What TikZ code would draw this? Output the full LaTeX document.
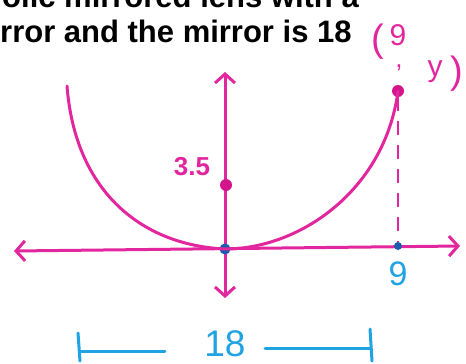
\documentclass[tikz,border=0pt]{standalone}
\usepackage{fontspec}
\setmainfont{Liberation Sans}
\usetikzlibrary{arrows.meta}
\definecolor{pen}{HTML}{E2279E}
\definecolor{dotpink}{HTML}{D3148A}
\definecolor{inkblue}{HTML}{1FA3E2}
\definecolor{dotblue}{HTML}{1E5AAE}
\tikzset{
  axisline/.style={pen, line width=3pt, line cap=round, <->},
  curveline/.style={pen, line width=3pt, line cap=round},
  pdot/.style={circle, fill=dotpink, inner sep=0pt, minimum size=12pt},
  bdot/.style={circle, fill=dotblue, inner sep=0pt, minimum size=11pt},
  dimline/.style={inkblue, line width=3pt, line cap=round},
  question/.style={anchor=base west, inner sep=0pt, font=\bfseries\fontsize{31}{34}\selectfont},
  pinktext/.style={pen, inner sep=0pt, font=\fontsize{30}{32}\selectfont},
}
\begin{document}
\begin{tikzpicture}[x=1pt,y=-1pt,>={Straight Barb[length=9pt,width=20pt]}]
	  \useasboundingbox (0,0) rectangle (466,364);
	  % question text, cut off
	  \node[question] (q1) at (2,7) {olic mirrored lens with a};
	  \node[question] (q2) at (0,42) {rror and the mirror is 18};
	  % axes
	  \coordinate (xl) at (14,251);
	  \coordinate (xr) at (460,246);
	  \coordinate (yt) at (225,72);
	  \coordinate (yb) at (225,298);
	  \draw[axisline] (xl) -- (xr);
	  \draw[axisline] (yt) -- (yb);
	  % points
	  \node[bdot] (O) at (225,249) {};
	  \node[pdot] (A) at (226,185) {};
	  \node[pdot] (P) at (398,91) {};
	  \node[bdot, minimum size=8pt] (Q) at (398,246) {};
	  \coordinate (L) at (67,86);
	  % parabola
	  \draw[curveline] (L) .. controls (75,190) and (140,245) .. (O.center);
	  \draw[curveline] (O.center) .. controls (300,249) and (385,190) .. (P.center);
	  \draw[pen, line width=2.4pt, dash pattern=on 14pt off 10pt] (P) -- (Q);
	  % labels
	  \node[pen, inner sep=0pt, font=\bfseries\fontsize{26}{28}\selectfont] (la) at (192,167) {3.5};
	  \node[inkblue, inner sep=0pt, font=\fontsize{34}{36}\selectfont] (l9) at (398,274) {9};
	  \node[pinktext, font=\fontsize{38}{40}\selectfont] (lpar) at (378,42) {(};
	  \node[pinktext] (nine) at (398,35) {9};
	  \node[pinktext, font=\fontsize{26}{28}\selectfont, text height=4pt, text depth=6pt] (comma) at (399,68) {,};
	  \node[pinktext] (yy) at (435,72) {y};
	  \node[pinktext, font=\fontsize{38}{40}\selectfont] (rpar) at (457,74) {)};
	  % width 18
	  \node[inkblue, inner sep=0pt, font=\fontsize{37}{39}\selectfont] (len) at (225,344) {18};
	  \coordinate (d1) at (78,333);
	  \coordinate (d2) at (80,361);
	  \coordinate (d3) at (165,351);
	  \coordinate (d4) at (265,348);
	  \coordinate (d5) at (371,348);
	  \coordinate (d6) at (370,329);
	  \coordinate (d7) at (372,361);
	  \draw[dimline] (d1) -- (d2);
	  \draw[dimline] (80,351) -- (d3);
	  \draw[dimline] (d4) -- (d5);
	  \draw[dimline] (d6) -- (d7);
	\end{tikzpicture}
\end{document}
